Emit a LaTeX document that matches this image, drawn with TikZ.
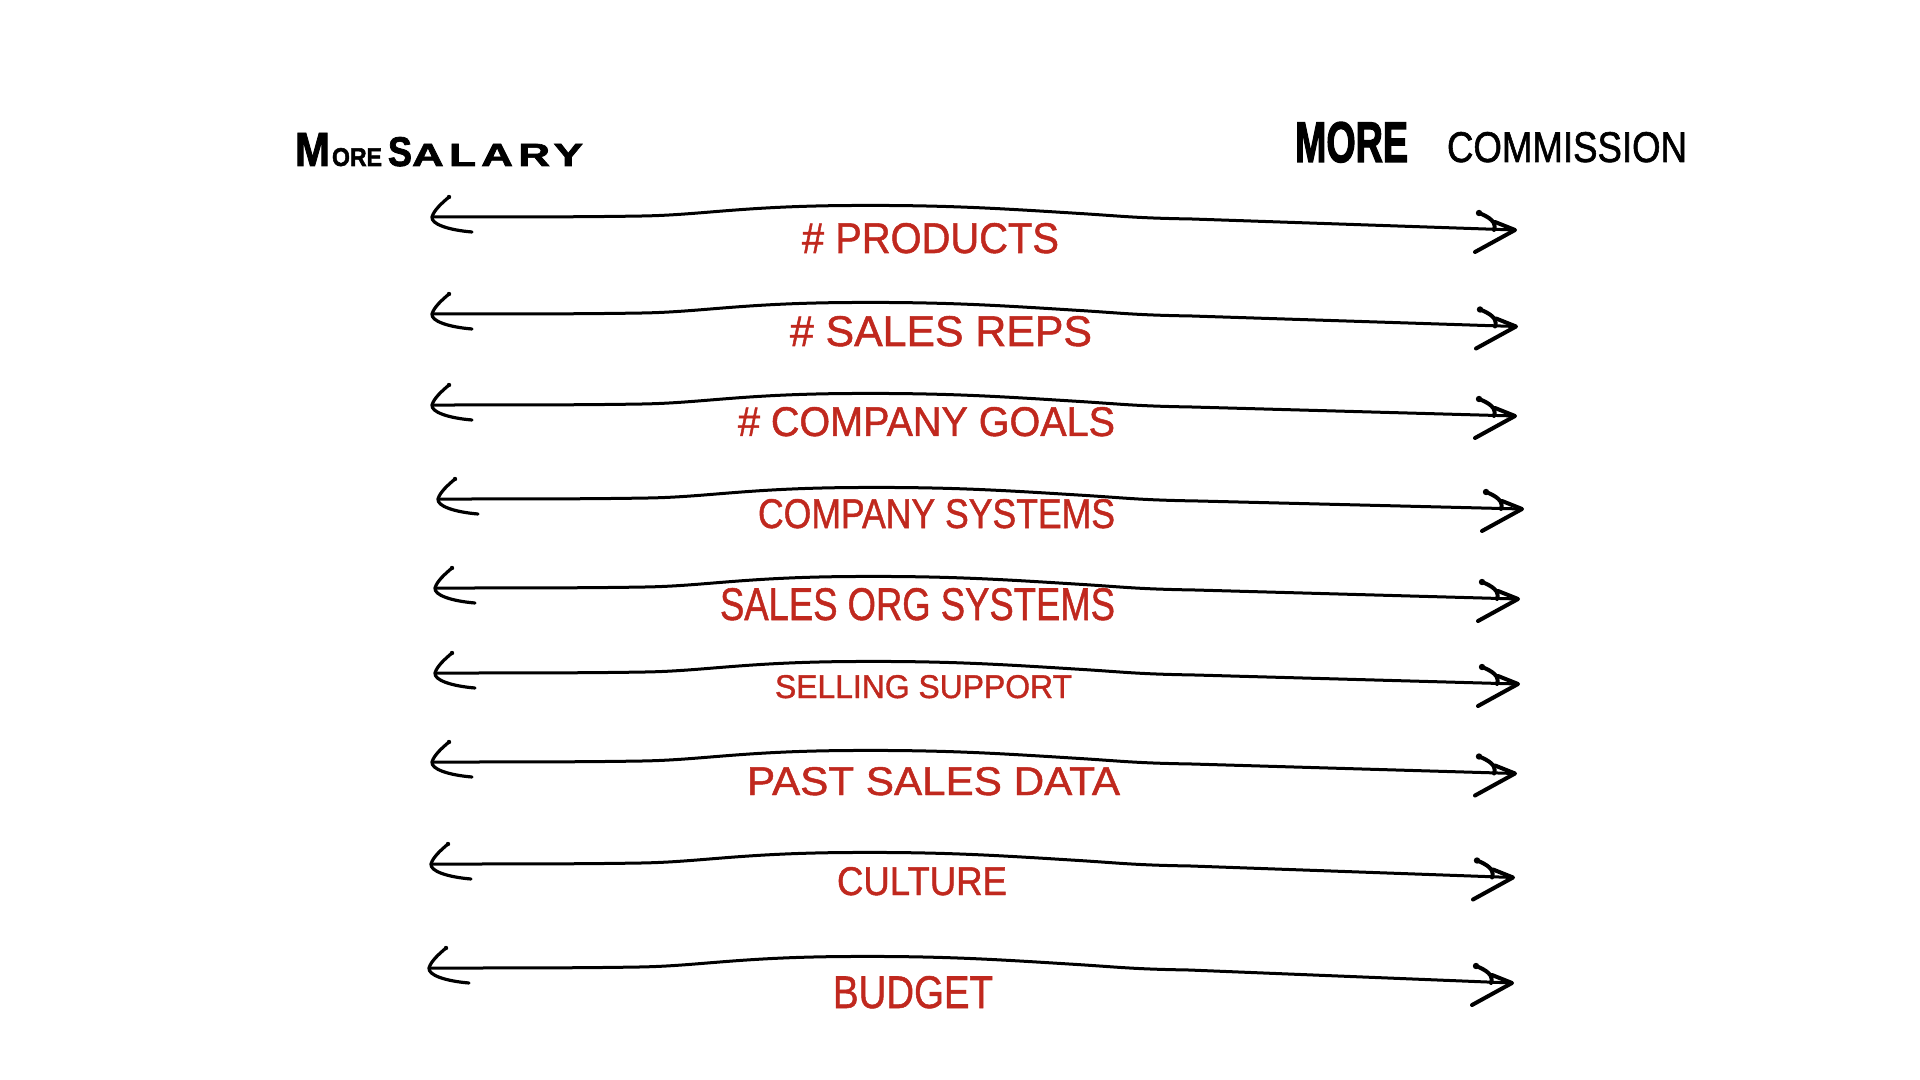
\documentclass[tikz,border=0pt]{standalone}
\usepackage{fontspec}
\setmainfont{Liberation Sans}
\usepackage{graphicx}
\definecolor{labred}{RGB}{192,40,30}
\tikzset{
  axisline/.style={line width=1.5pt, line cap=round, line join=round},
  headline/.style={line width=1.6pt, line cap=round, line join=round},
  rheadline/.style={line width=2pt, line cap=round, line join=round},
  lab/.style={text=labred, inner sep=0pt, outer sep=0pt, anchor=base},
  ttl/.style={text=black, inner sep=0pt, outer sep=0pt, anchor=base west},
}
\begin{document}
\begin{tikzpicture}[x=0.5pt,y=-0.5pt]
\fill[white] (0,0) rectangle (1920,1080);
\useasboundingbox (0,0) rectangle (1920,1080);
% headers
\node[ttl] (sal) at (295,166) {\addfontfeature{FakeBold=2}\bfseries\resizebox{17.5pt}{16.5pt}{M}\hspace{1pt}\resizebox{25pt}{9pt}{ORE}\hspace{3pt}\resizebox{12pt}{14.5pt}{S}\resizebox{85.5pt}{11pt}{\addfontfeature{LetterSpace=12}ALARY}};
\node[ttl] (com) at (1295,162) {\resizebox{56.5pt}{20pt}{\addfontfeature{FakeBold=2.5}\bfseries MORE}\hspace{19.5pt}\resizebox{120pt}{15pt}{\addfontfeature{FakeBold=1.5}COMMISSION}};
% arrows and labels
\foreach \i/\xl/\yl/\xr/\yr/\lx/\lb/\lw/\lh/\txt in {
 1/432/217/1515/230/930.5/253/128.5/15/{\# PRODUCTS},
 2/432/314/1516/326.5/941/346/151/15/{\# SALES REPS},
 3/432/405/1515/416/926.5/436/188.5/14.5/{\# COMPANY GOALS},
 4/438/499/1522/509/936.5/528/178.5/14.5/{COMPANY SYSTEMS},
 5/435/588/1518/599/917.5/620/197.5/16/{SALES ORG SYSTEMS},
 6/435/673/1518/684/923.5/698/148.5/11.5/{SELLING SUPPORT},
 7/432/762/1515/773.5/933.5/795/186.5/14/{PAST SALES DATA},
 8/431/864/1513/877.5/922/895/85/14/{CULTURE},
 9/429/968/1512/983/913/1008/80/16/{BUDGET}}{
 \coordinate (L\i) at (\xl,\yl);
 \coordinate (R\i) at (\xr,\yr);
 \draw[axisline] (L\i) .. controls ({\xl+90},\yl) and ({\xl+150},\yl) .. ({\xl+210},{\yl-1})
   .. controls ({\xl+270},{\yl-2}) and ({\xl+310},{\yl-11}) .. ({\xl+420},{\yl-11.5})
   .. controls ({\xl+510},{\yl-12}) and ({\xl+560},{\yl-9}) .. ({\xl+640},{\yl-4})
   .. controls ({\xl+690},{\yl-1}) and ({\xl+700},{\yl+1}) .. ({\xl+760},{\yl+2})
   -- (R\i);
 % left head
 \draw[headline] ({\xl+17},{\yl-20}) .. controls ({\xl+10},{\yl-14}) and ({\xl+2},{\yl-7}) .. (L\i)
   .. controls ({\xl-1},{\yl+7}) and ({\xl+16},{\yl+13}) .. ({\xl+40},{\yl+15});
 \fill ({\xl+17},{\yl-20}) circle (2.2);
 % right head
 \draw[rheadline] ({\xr-20},{\yr-8}) -- (R\i) -- ({\xr-40},{\yr+22});
 \draw[rheadline] ({\xr-36},{\yr-17}) .. controls ({\xr-26},{\yr-13}) and ({\xr-18},{\yr-8}) .. ({\xr-21},{\yr});
 \fill ({\xr-36},{\yr-17}) circle (3.2);
 \node[lab] (T\i) at (\lx,\lb) {\resizebox{\lw pt}{\lh pt}{\addfontfeature{FakeBold=1.2}\txt}};
}
\end{tikzpicture}
\end{document}
